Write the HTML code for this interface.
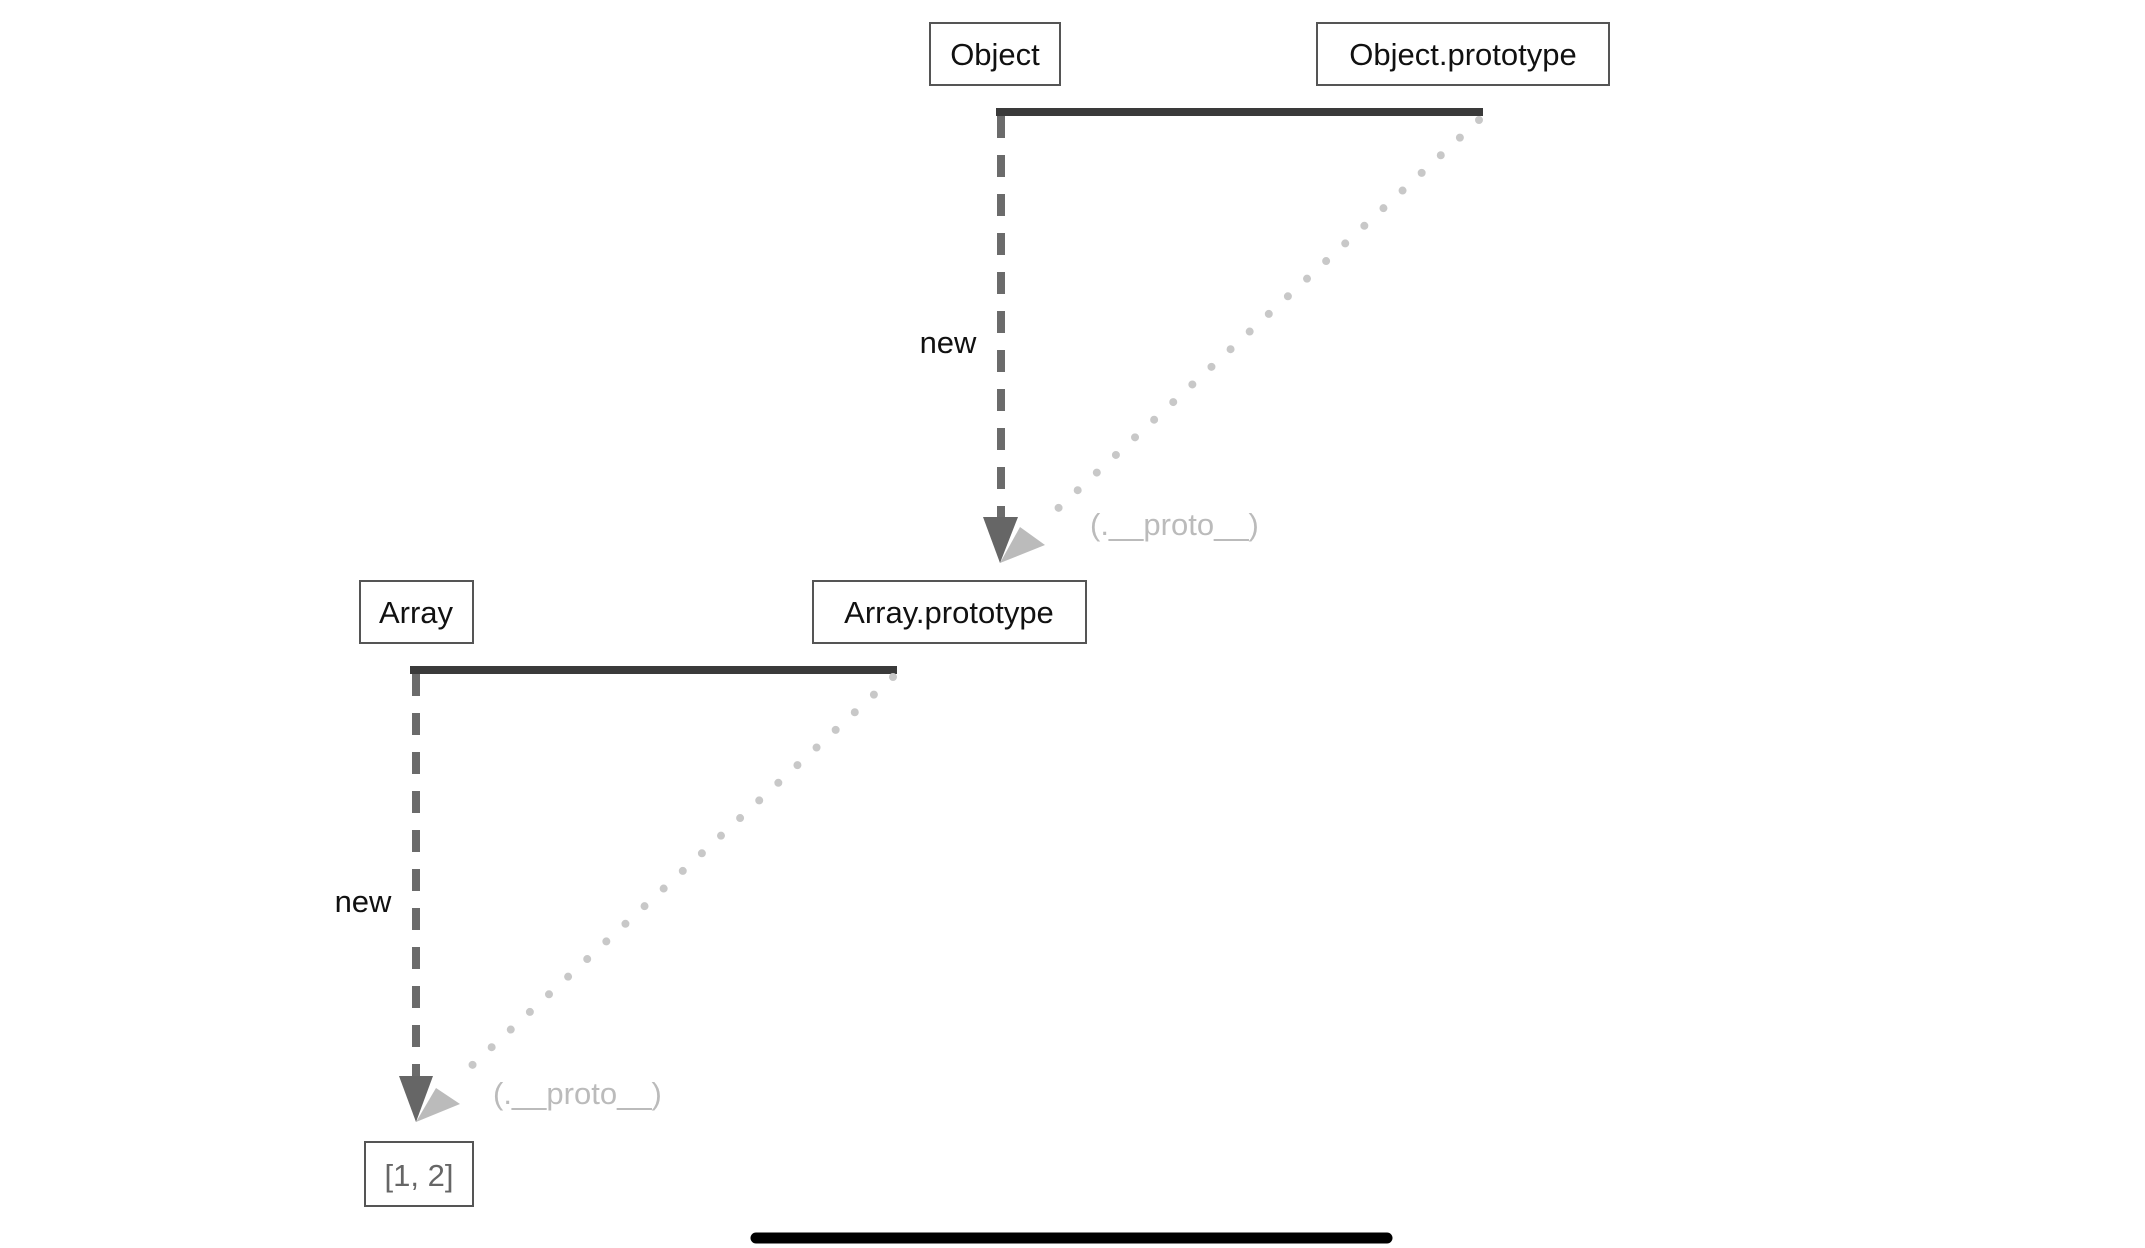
<!DOCTYPE html>
<html><head><meta charset="utf-8"><style>
html,body{margin:0;padding:0;background:#fff;}
svg{display:block}
</style></head><body>
<svg width="2145" height="1248" viewBox="0 0 2145 1248" xmlns="http://www.w3.org/2000/svg" font-family="Liberation Sans, sans-serif">
<g fill="#fff" stroke="#555" stroke-width="2">
<rect x="930" y="23" width="130" height="62"/>
<rect x="1317" y="23" width="292" height="62"/>
<rect x="360" y="581" width="113" height="62"/>
<rect x="813" y="581" width="273" height="62"/>
<rect x="365" y="1142" width="108" height="64"/>
</g>
<g font-size="31" fill="#111" text-anchor="middle">
<text x="995" y="65">Object</text>
<text x="1463" y="65">Object.prototype</text>
<text x="416" y="623">Array</text>
<text x="949" y="623">Array.prototype</text>
<text x="419" y="1186" fill="#666">[1, 2]</text>
<text x="948" y="353" text-anchor="middle">new</text>
<text x="363" y="912">new</text>
</g>
<g font-size="31" fill="#bbb">
<text x="1090" y="535">(.__proto__)</text>
<text x="493" y="1104">(.__proto__)</text>
</g>
<!-- thick lines -->
<line x1="996" y1="112" x2="1483" y2="112" stroke="#3a3a3a" stroke-width="8"/>
<line x1="410" y1="670" x2="897" y2="670" stroke="#3a3a3a" stroke-width="8"/>
<!-- dashed -->
<line x1="1001" y1="116" x2="1001" y2="520" stroke="#6b6b6b" stroke-width="8" stroke-dasharray="22 17"/>
<line x1="416" y1="674" x2="416" y2="1082" stroke="#6b6b6b" stroke-width="8" stroke-dasharray="22 17"/>
<!-- dotted -->
<line x1="1479" y1="120" x2="1040" y2="525" stroke="#c8c8c8" stroke-width="8" stroke-linecap="round" stroke-dasharray="0 26"/>
<line x1="893" y1="677" x2="455" y2="1081" stroke="#c8c8c8" stroke-width="8" stroke-linecap="round" stroke-dasharray="0 26"/>
<!-- arrowheads -->
<polygon points="1000,563 1020,527 1045,545" fill="#bbb"/>
<polygon points="983,517 1018,517 1000,563" fill="#666"/>
<polygon points="416,1122 436,1088 460,1104" fill="#bbb"/>
<polygon points="399,1076 433,1076 416,1122" fill="#666"/>
<!-- bottom bar -->
<line x1="756" y1="1238" x2="1387" y2="1238" stroke="#000" stroke-width="11" stroke-linecap="round"/>
</svg>
</body></html>
